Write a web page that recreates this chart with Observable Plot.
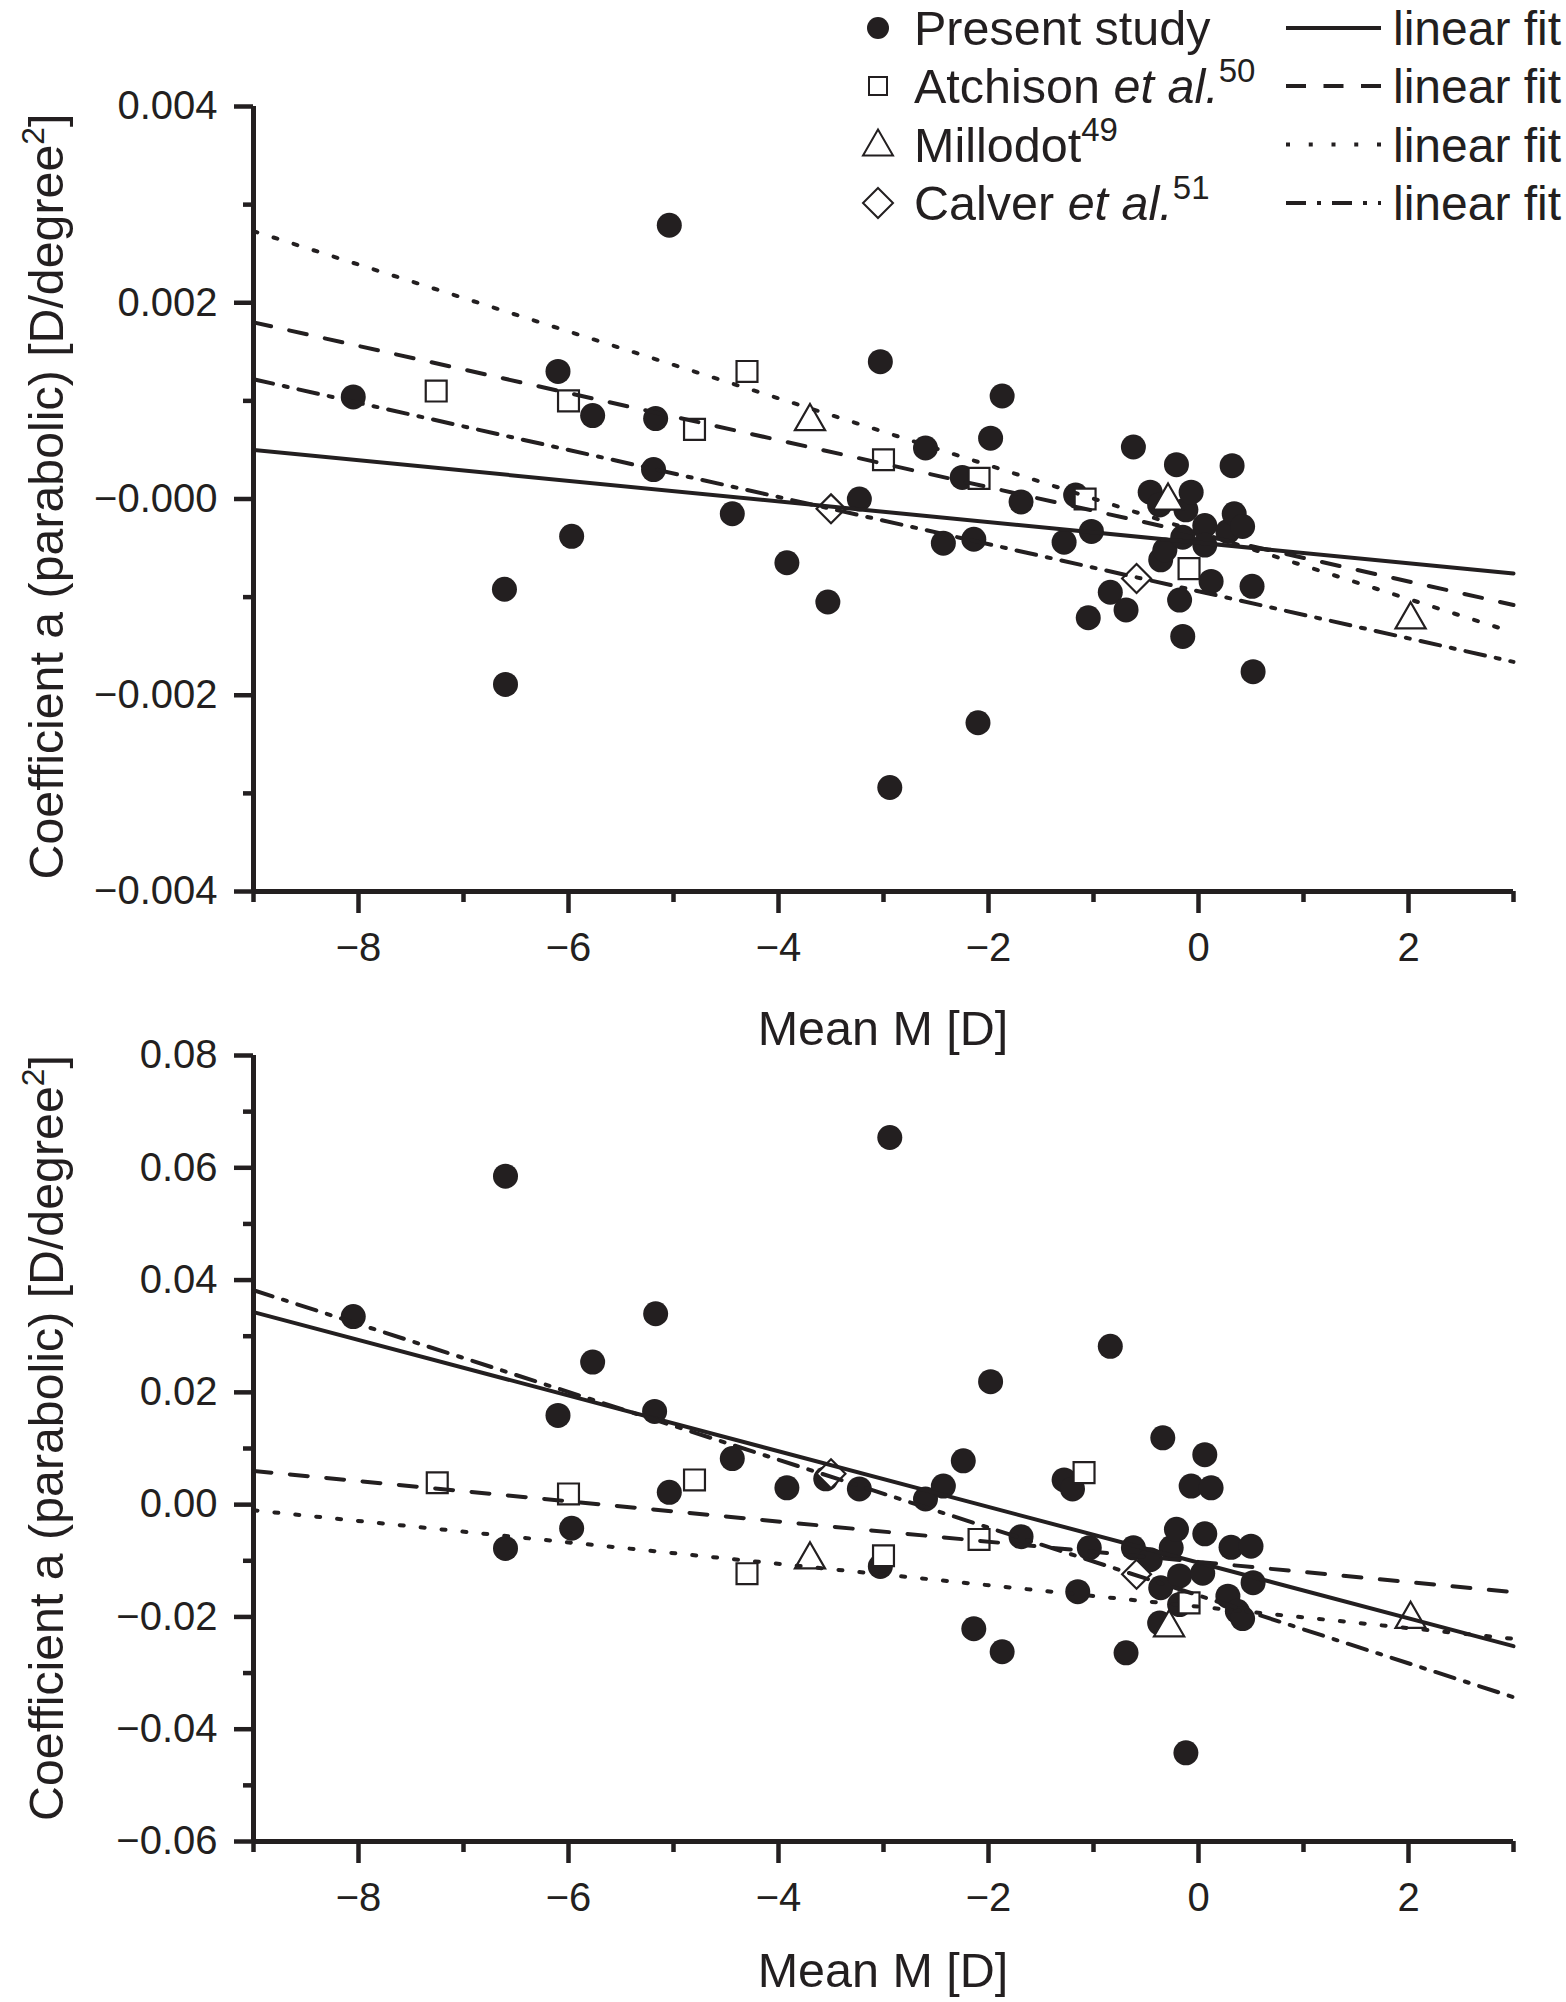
<!DOCTYPE html>
<html>
<head>
<meta charset="utf-8">
<script src="https://cdn.jsdelivr.net/npm/d3@7"></script>
<script src="https://cdn.jsdelivr.net/npm/@observablehq/plot@0.6"></script>
<style>
  html, body { margin: 0; padding: 0; background: #fff; }
  #wrap { position: relative; width: 1566px; height: 2002px; overflow: hidden; background: #fff; }
  #wrap > svg { display: block; }
  #overlay { position: absolute; left: 0; top: 0; pointer-events: none; }
</style>
</head>
<body>
<div id="wrap"></div>
<script>
// ---------- data ----------
const ink = "#231f20";
const fontFamily = '"Liberation Sans", Arial, Helvetica, sans-serif';

const xDomain = [-9, 3];
const xMajorTicks = [-8, -6, -4, -2, 0, 2];
const xMinorTicks = [-9, -7, -5, -3, -1, 1, 3];
const xTickLabels = ["−8", "−6", "−4", "−2", "0", "2"];

const topYDomain = [-0.004, 0.004];
const topYMajor = [-0.004, -0.002, 0, 0.002, 0.004];
const topYMinor = [-0.003, -0.001, 0.001, 0.003];
const topYLabels = ["−0.004", "−0.002", "−0.000", "0.002", "0.004"];

const botYDomain = [-0.06, 0.08];
const botYMajor = [-0.06, -0.04, -0.02, 0, 0.02, 0.04, 0.06, 0.08];
const botYMinor = [-0.05, -0.03, -0.01, 0.01, 0.03, 0.05, 0.07];
const botYLabels = ["−0.06", "−0.04", "−0.02", "0.00", "0.02", "0.04", "0.06", "0.08"];

// Present study (filled circles): [Mean M, coefficient a]
const presentTop = [
  [-8.05, 0.00104], [-6.61, -0.00092], [-6.60, -0.00189], [-6.10, 0.00130], [-5.97, -0.00038],
  [-5.77, 0.00085], [-5.17, 0.00082], [-5.19, 0.00030], [-5.04, 0.00279], [-4.44, -0.00015],
  [-3.92, -0.00065], [-3.53, -0.00105], [-3.23, 0.00000], [-3.03, 0.00140], [-2.94, -0.00294],
  [-2.60, 0.00052], [-2.43, -0.00045], [-2.25, 0.00022], [-2.14, -0.00041], [-2.10, -0.00228],
  [-1.98, 0.00062], [-1.87, 0.00105], [-1.69, -0.00003], [-1.28, -0.00044], [-1.17, 0.00004],
  [-1.05, -0.00121], [-1.02, -0.00033], [-0.84, -0.00095], [-0.69, -0.00113], [-0.62, 0.00053],
  [-0.46, 0.00007], [-0.37, -0.00006], [-0.36, -0.00062], [-0.32, -0.00052], [-0.21, 0.00035],
  [-0.18, -0.00103], [-0.15, -0.00039], [-0.15, -0.00140], [-0.12, -0.00011], [-0.07, 0.00007],
  [0.06, -0.00027], [0.06, -0.00047], [0.12, -0.00084], [0.28, -0.00033], [0.32, 0.00034],
  [0.34, -0.00015], [0.42, -0.00028], [0.51, -0.00089], [0.52, -0.00176]
];
const presentBot = [
  [-8.05, 0.0335], [-6.60, 0.0585], [-6.60, -0.0078], [-6.10, 0.0159], [-5.97, -0.0042],
  [-5.77, 0.0254], [-5.17, 0.0340], [-5.18, 0.0166], [-5.04, 0.0022], [-4.44, 0.0082],
  [-3.92, 0.0030], [-3.55, 0.0046], [-3.23, 0.0028], [-3.03, -0.0110], [-2.94, 0.0654],
  [-2.60, 0.0010], [-2.43, 0.0033], [-2.24, 0.0078], [-2.14, -0.0221], [-1.98, 0.0219],
  [-1.87, -0.0262], [-1.69, -0.0057], [-1.28, 0.0044], [-1.20, 0.0028], [-1.15, -0.0155],
  [-1.04, -0.0077], [-0.84, 0.0282], [-0.69, -0.0264], [-0.62, -0.0077], [-0.46, -0.0098],
  [-0.37, -0.0211], [-0.36, -0.0148], [-0.34, 0.0119], [-0.26, -0.0077], [-0.21, -0.0044],
  [-0.18, -0.0127], [-0.18, -0.0178], [-0.12, -0.0442], [-0.07, 0.0033], [0.04, -0.0122],
  [0.06, 0.0089], [0.06, -0.0052], [0.12, 0.0030], [0.28, -0.0163], [0.31, -0.0076],
  [0.37, -0.0190], [0.42, -0.0203], [0.50, -0.0074], [0.52, -0.0139]
];

// Atchison et al. (open squares)
const atchisonTop = [[-7.26, 0.00110], [-6.00, 0.00100], [-4.80, 0.00071], [-4.30, 0.00130], [-3.00, 0.00040], [-2.09, 0.00021], [-1.08, 0.00000], [-0.09, -0.00071]];
const atchisonBot = [[-7.25, 0.0039], [-6.00, 0.0019], [-4.80, 0.0044], [-4.30, -0.0123], [-3.00, -0.0091], [-2.09, -0.0062], [-1.09, 0.0057], [-0.09, -0.0175]];
// Millodot (open triangles)
const millodotTop = [[-3.70, 0.00079], [-0.29, -0.00002], [2.02, -0.00123]];
const millodotBot = [[-3.70, -0.0098], [-0.28, -0.0219], [2.02, -0.0204]];
// Calver et al. (open diamonds)
const calverTop = [[-3.50, -0.00010], [-0.59, -0.00081]];
const calverBot = [[-3.50, 0.0055], [-0.59, -0.0124]];

// Linear fits: value at x = -9 and at x = 3 (order: present, Atchison, Millodot, Calver)
const fitX = [-9, 3];
const fitTopStart = [0.00050, 0.00180, 0.00273, 0.00122];
const fitTopEnd = [-0.00076, -0.00108, -0.00136, -0.00166];
const fitBotStart = [0.0343, 0.0060, -0.0010, 0.0382];
const fitBotEnd = [-0.0252, -0.0156, -0.0239, -0.0343];
const fitDash = [null, "18 18.5", "4 17", "20 11 4 11"];

// Legend texts
const legendNames = ["Present study", "Atchison", "Millodot", "Calver"];
const legendEtAl = [false, true, false, true];
const legendRefs = ["", "50", "49", "51"];
const legendFitText = "linear fit";
const xAxisTitle = "Mean M [D]";
const yAxisTitle = "Coefficient a (parabolic) [D/degree";

// ---------- drawing ----------
const W = 1566;
const marginLeft = 253, marginRight = 53;

function panel(cfg) {
  const toObj = (a) => a.map(([x, y]) => ({x, y}));
  const fitMarks = fitDash.map((dash, i) =>
    Plot.line(fitX.map((x, j) => ({x, y: j === 0 ? cfg.fitStart[i] : cfg.fitEnd[i]})), {
      x: "x", y: "y", stroke: ink, strokeWidth: 4,
      ...(dash ? {strokeDasharray: dash} : {})
    })
  );
  return Plot.plot({
    width: W, height: cfg.height,
    marginTop: cfg.marginTop, marginBottom: cfg.marginBottom,
    marginLeft, marginRight,
    x: {domain: xDomain, label: null},
    y: {domain: cfg.yDomain, label: null},
    style: {fontFamily, fontSize: "40px", color: ink, background: "#fff", overflow: "visible"},
    marks: [
      Plot.dot(toObj(cfg.present), {x: "x", y: "y", r: 12.5, fill: ink, stroke: "none"}),
      Plot.dot(toObj(cfg.atchison), {x: "x", y: "y", symbol: "square", r: 11.8, fill: "#fff", stroke: ink, strokeWidth: 2.2}),
      Plot.dot(toObj(cfg.millodot), {x: "x", y: "y", symbol: "triangle", r: 11.2, fill: "#fff", stroke: ink, strokeWidth: 2.2}),
      Plot.dot(toObj(cfg.calver), {x: "x", y: "y", symbol: "diamond2", r: 13, fill: "#fff", stroke: ink, strokeWidth: 2.2}),
      ...fitMarks,
      Plot.ruleX([xDomain[0]], {y1: cfg.yDomain[0], y2: cfg.yDomain[1], stroke: ink, strokeWidth: 5}),
      Plot.ruleY([cfg.yDomain[0]], {x1: xDomain[0], x2: xDomain[1], stroke: ink, strokeWidth: 5}),
      Plot.axisX(xMajorTicks, {tickSize: 22, tickPadding: 19, strokeWidth: 4.5, label: null,
        tickFormat: (d) => xTickLabels[xMajorTicks.indexOf(d)], fill: ink}),
      Plot.axisX(xMinorTicks, {tickSize: 11, strokeWidth: 4.5, label: null, tickFormat: () => ""}),
      Plot.axisY(cfg.yMajor, {tickSize: 19, tickPadding: 17, strokeWidth: 4.5, label: null,
        tickFormat: (d) => cfg.yLabels[cfg.yMajor.indexOf(d)], fill: ink}),
      Plot.axisY(cfg.yMinor, {tickSize: 10, strokeWidth: 4.5, label: null, tickFormat: () => ""})
    ]
  });
}

const wrap = document.getElementById("wrap");
wrap.appendChild(panel({
  height: 1000, marginTop: 106, marginBottom: 109,
  yDomain: topYDomain, yMajor: topYMajor, yMinor: topYMinor, yLabels: topYLabels,
  present: presentTop, atchison: atchisonTop, millodot: millodotTop, calver: calverTop,
  fitStart: fitTopStart, fitEnd: fitTopEnd
}));
wrap.appendChild(panel({
  height: 1002, marginTop: 55, marginBottom: 161,
  yDomain: botYDomain, yMajor: botYMajor, yMinor: botYMinor, yLabels: botYLabels,
  present: presentBot, atchison: atchisonBot, millodot: millodotBot, calver: calverBot,
  fitStart: fitBotStart, fitEnd: fitBotEnd
}));

// ---------- overlay: axis titles and legend ----------
const ov = d3.select(wrap).append("svg").attr("id", "overlay")
  .attr("width", W).attr("height", 2002)
  .attr("font-family", fontFamily).attr("fill", ink);

// y axis titles (rotated, slightly condensed like the original), one per panel
[496.5, 1438].forEach((cy) => {
  const g = ov.append("g");
  const t = g.append("text").attr("text-anchor", "middle").attr("font-size", 48.5);
  t.append("tspan").text(yAxisTitle);
  t.append("tspan").attr("font-size", 32).attr("dy", -19).text("2");
  t.append("tspan").attr("dy", 19).text("]");
  let len = 0;
  try { len = t.node().getBBox().width; } catch (e) { len = 0; }
  const s = len > 0 ? Math.min(1, 766 / len) : 0.925;
  g.attr("transform", `translate(63,${cy}) rotate(-90) scale(${s},1)`);
});
// x axis titles
[1045, 1987].forEach((by) => {
  ov.append("text").attr("x", 883).attr("y", by).attr("text-anchor", "middle")
    .attr("font-size", 48.5).text(xAxisTitle);
});

// legend
const rowY = [28, 86, 144.5, 203];
const mx = 878, tx = 914, lx0 = 1286, lx1 = 1381, ftx = 1393;
legendNames.forEach((name, i) => {
  const cy = rowY[i];
  const g = ov.append("g");
  if (i === 0) g.append("circle").attr("cx", mx).attr("cy", cy).attr("r", 11).attr("fill", ink);
  if (i === 1) g.append("rect").attr("x", mx - 9).attr("y", cy - 9).attr("width", 18).attr("height", 18)
    .attr("fill", "#fff").attr("stroke", ink).attr("stroke-width", 2);
  if (i === 2) g.append("path").attr("d", `M${mx},${cy - 15}L${mx + 15},${cy + 11}L${mx - 15},${cy + 11}Z`)
    .attr("fill", "#fff").attr("stroke", ink).attr("stroke-width", 2);
  if (i === 3) g.append("path").attr("d", `M${mx},${cy - 15}L${mx + 15},${cy}L${mx},${cy + 15}L${mx - 15},${cy}Z`)
    .attr("fill", "#fff").attr("stroke", ink).attr("stroke-width", 2);
  const t = g.append("text").attr("x", tx).attr("y", cy + 17).attr("font-size", 48.5);
  t.append("tspan").text(name);
  if (legendEtAl[i]) t.append("tspan").attr("font-style", "italic").text(" et al.");
  if (legendRefs[i]) {
    t.append("tspan").attr("font-size", 33).attr("dy", -21).text(legendRefs[i]);
  }
  const ln = g.append("line").attr("x1", lx0).attr("x2", lx1).attr("y1", cy).attr("y2", cy)
    .attr("stroke", ink).attr("stroke-width", 4);
  if (fitDash[i]) ln.attr("stroke-dasharray", i === 1 ? "20 17.5" : i === 2 ? "4 18.75" : fitDash[i]);
  g.append("text").attr("x", ftx).attr("y", cy + 17).attr("font-size", 48).text(legendFitText);
});
</script>
</body>
</html>
